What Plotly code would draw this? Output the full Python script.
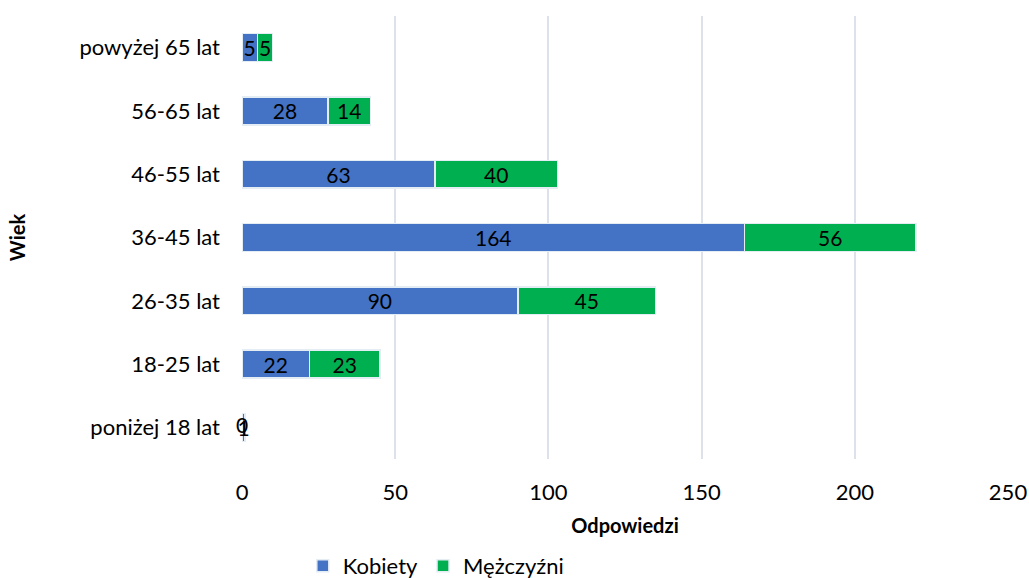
import plotly.graph_objects as go

# Data
age_groups = ["poniżej 18 lat", "18-25 lat", "26-35 lat", "36-45 lat",
              "46-55 lat", "56-65 lat", "powyżej 65 lat"]
kobiety = [0, 22, 90, 164, 63, 28, 5]
mezczyzni = [1, 23, 45, 56, 40, 14, 5]

FONT = "Lato"
BORDER = "#E4ECF4"

fig = go.Figure(data=[
    go.Bar(
        name="Kobiety", y=age_groups, x=kobiety, orientation="h",
        marker=dict(color="#4472C4", line=dict(color=BORDER, width=1.5)),
        text=kobiety, textposition="inside", insidetextanchor="middle", textangle=0,
        textfont=dict(family=FONT, size=21, color="black"),
        constraintext="none", cliponaxis=False,
    ),
    go.Bar(
        name="Mężczyźni", y=age_groups, x=mezczyzni, orientation="h",
        marker=dict(color="#00B050", line=dict(color=BORDER, width=1.5)),
        text=mezczyzni, textposition="inside", insidetextanchor="middle", textangle=0,
        textfont=dict(family=FONT, size=21, color="black"),
        constraintext="none", cliponaxis=False,
    ),
])

# zero-width bars get no inside label, so label them separately
zero_idx = [i for i, v in enumerate(kobiety) if v == 0]
fig.add_trace(go.Scatter(
    x=[kobiety[i] for i in zero_idx], y=[age_groups[i] for i in zero_idx],
    text=[str(kobiety[i]) for i in zero_idx], mode="text",
    textfont=dict(family=FONT, size=21, color="black"),
    showlegend=False, hoverinfo="skip", cliponaxis=False,
))

fig.update_layout(
    barmode="stack",
    bargap=0.56,
    width=1029, height=578,
    margin=dict(l=242, r=21, t=16, b=110),
    plot_bgcolor="white", paper_bgcolor="white",
    font=dict(family=FONT, size=22, color="black"),
    uniformtext=dict(minsize=21, mode="show"),
    xaxis=dict(
        range=[0, 250], dtick=50, showgrid=True, gridcolor="#DCE1EA", gridwidth=2,
        zeroline=False, showline=False, ticks="", ticklabelstandoff=18,
        automargin="height", tickfont=dict(size=22),
        title=dict(text="<b>Odpowiedzi</b>", font=dict(size=20), standoff=14),
    ),
    yaxis=dict(
        showgrid=False, zeroline=False, ticks="", ticklabelstandoff=21,
        automargin="width", tickfont=dict(size=22),
        title=dict(text="<b>Wiek</b>", font=dict(size=20), standoff=48),
    ),
    legend=dict(
        orientation="h", x=0.253, xanchor="center", y=0.057, yanchor="top",
        yref="container", font=dict(size=22), traceorder="normal",
        itemwidth=30,
    ),
)

# drop the default 8px page margin so the figure fills the window exactly
fig.write_html("out.html", config={"displayModeBar": False},
               post_script="document.body.style.margin='0';")
